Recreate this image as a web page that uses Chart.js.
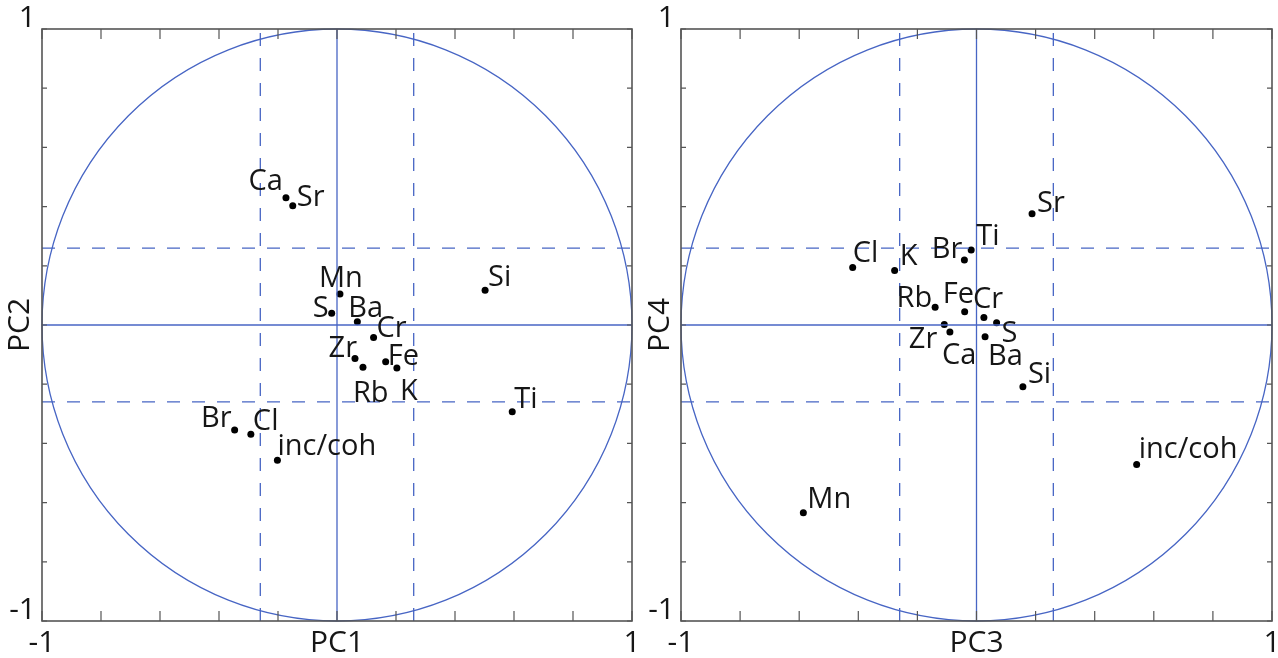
<!DOCTYPE html>
<html><head><meta charset="utf-8">
<script src="https://cdn.jsdelivr.net/npm/chart.js@4.4.1/dist/chart.umd.min.js"></script>
<style>
html,body{margin:0;padding:0;background:#fff;width:1278px;height:658px;overflow:hidden;}
#c1{position:absolute;left:0;top:0;}
#c2{position:absolute;left:640px;top:0;}
</style></head><body>
<canvas id="c1" width="640" height="658"></canvas>
<canvas id="c2" width="638" height="658"></canvas>
<script>
// ---- data ----
const elements = ['Ca','Sr','Mn','S','Ba','Cr','Zr','Rb','Fe','K','Si','Ti','Br','Cl','inc/coh'];
const pc1 = [-0.173,-0.150, 0.010,-0.018, 0.069, 0.124, 0.061, 0.088, 0.165, 0.203, 0.502, 0.594,-0.347,-0.292,-0.202];
const pc2 = [ 0.430, 0.403, 0.105, 0.040, 0.011,-0.042,-0.113,-0.143,-0.124,-0.145, 0.117,-0.293,-0.355,-0.369,-0.457];
const pc3 = [-0.090, 0.188,-0.586, 0.068, 0.029, 0.025,-0.109,-0.140,-0.040,-0.277, 0.157,-0.018,-0.041,-0.419, 0.542];
const pc4 = [-0.024, 0.376,-0.634, 0.008,-0.040, 0.025, 0.002, 0.060, 0.045, 0.184,-0.209, 0.253, 0.220, 0.194,-0.471];
const tickValues = [-1,-0.8,-0.6,-0.4,-0.2,0,0.2,0.4,0.6,0.8,1];
const tickLabels = ['-1','1'];
const dashLevel = 0.26;
const circleRadius = 1;

// label placement (align, dx, dy) in pixels, same order as elements
const labelPos1 = [['right',-3,-8],['left',4,0],['center',1,-7],['right',-3,4],['left',-9,-5],['left',3,0],['right',2,-1],['left',-10,35],['left',2,3],['left',3,32],['left',3,-4],['left',2,-4],['right',-3,-3],['left',2,-4],['left',0,-5]];
const labelPos2 = [['left',-8,32],['left',5,-2],['left',4,-5],['left',5,19],['left',3,28],['left',-11,-10],['right',-7,24],['right',-3,0],['left',-22,-9],['left',5,-6],['left',5,-4],['left',5,-5],['right',-2,-2],['left',0,-6],['left',2,-6]];

const BLUE = '#4765c4';
const AXIS = '#555555';
const TXT = '#161616';
const FONT = '"Open Sans", "Noto Sans", sans-serif';

const framePlugin = {
  id: 'frame',
  beforeDatasetsDraw(chart) {
    const {ctx, scales: {x, y}} = chart;
    ctx.save();
    const cx = x.getPixelForValue(0), cy = y.getPixelForValue(0);
    const rx = x.getPixelForValue(circleRadius) - cx, ry = cy - y.getPixelForValue(circleRadius);
    ctx.strokeStyle = BLUE; ctx.lineWidth = 1.3;
    ctx.beginPath(); ctx.ellipse(cx, cy, rx, ry, 0, 0, Math.PI * 2); ctx.stroke();
    ctx.restore();
  },
  afterDraw(chart) {
    const {ctx, chartArea: a, scales: {x, y}} = chart;
    ctx.save();
    ctx.strokeStyle = AXIS; ctx.lineWidth = 1.6;
    ctx.strokeRect(a.left, a.top, a.right - a.left, a.bottom - a.top);
    ctx.lineWidth = 1.2;
    ctx.beginPath();
    tickValues.forEach(v => {
      const px = x.getPixelForValue(v), py = y.getPixelForValue(v);
      ctx.moveTo(px, a.bottom); ctx.lineTo(px, a.bottom - 10);
      ctx.moveTo(px, a.top); ctx.lineTo(px, a.top + 10);
      ctx.moveTo(a.left, py); ctx.lineTo(a.left + 5, py);
      ctx.moveTo(a.right, py); ctx.lineTo(a.right - 5, py);
    });
    ctx.stroke();
    ctx.restore();
  },
  afterDatasetsDraw(chart) {
    const {ctx} = chart;
    const pos = chart.options.plugins.frame.labelPos;
    const ds = chart.data.datasets.findIndex(d => d.isPoints);
    const meta = chart.getDatasetMeta(ds);
    ctx.save();
    ctx.fillStyle = TXT;
    ctx.font = '500 29px ' + FONT;
    ctx.textBaseline = 'alphabetic';
    meta.data.forEach((el, i) => {
      const [al, dx, dy] = pos[i];
      ctx.textAlign = al;
      ctx.fillText(elements[i], el.x + dx, el.y + dy);
    });
    ctx.restore();
  }
};

function lineDs(pts, dashed) {
  return {type: 'scatter', data: pts, showLine: true, borderColor: BLUE, borderWidth: 1.3,
          borderDash: dashed ? [13, 12] : [], pointRadius: 0, fill: false};
}

function makeChart(id, xs, ys, xName, yName, labelPos, yWidth, padRight) {
  const pts = xs.map((v, i) => ({x: v, y: ys[i]}));
  const datasets = [
    lineDs([{x: -1, y: 0}, {x: 1, y: 0}], false),
    lineDs([{x: 0, y: -1}, {x: 0, y: 1}], false),
    lineDs([{x: -1, y: dashLevel}, {x: 1, y: dashLevel}], true),
    lineDs([{x: -1, y: -dashLevel}, {x: 1, y: -dashLevel}], true),
    lineDs([{x: dashLevel, y: -1}, {x: dashLevel, y: 1}], true),
    lineDs([{x: -dashLevel, y: -1}, {x: -dashLevel, y: 1}], true),
    {type: 'scatter', isPoints: true, data: pts, pointRadius: 3.5, pointBackgroundColor: '#000',
     pointBorderWidth: 0, showLine: false}
  ];
  return new Chart(document.getElementById(id), {
    type: 'scatter',
    data: {datasets},
    options: {
      responsive: false, animation: false,
      layout: {padding: {left: 0, top: 29, right: padRight, bottom: 0}},
      plugins: {legend: {display: false}, tooltip: {enabled: false}, frame: {labelPos}},
      scales: {
        x: {
          type: 'linear', min: -1, max: 1, position: 'bottom',
          grid: {display: false, drawTicks: false}, border: {display: false},
          afterBuildTicks: s => { s.ticks = tickValues.map(v => ({value: v})); },
          afterFit: s => { s.height = 37; s.paddingLeft = 0; s.paddingRight = 0; },
          ticks: {autoSkip: false, maxRotation: 0, padding: 4, color: TXT,
                  font: {family: FONT, size: 30, weight: '500'},
                  callback: v => (v === -1 ? tickLabels[0] : v === 1 ? tickLabels[1] : (Math.abs(v) < 1e-9 ? xName : ''))}
        },
        y: {
          type: 'linear', min: -1, max: 1, position: 'left',
          grid: {display: false, drawTicks: false}, border: {display: false},
          afterBuildTicks: s => { s.ticks = tickValues.map(v => ({value: v})); },
          afterFit: s => { s.width = yWidth; s.paddingTop = 0; s.paddingBottom = 0; },
          title: {display: true, text: yName, color: TXT, font: {family: FONT, size: 30, weight: '500'}, padding: {top: 2, bottom: 0}},
          ticks: {autoSkip: false, padding: 6, color: TXT, labelOffset: -11,
                  font: {family: FONT, size: 30, weight: '500'},
                  callback: v => (v === -1 ? tickLabels[0] : v === 1 ? tickLabels[1] : '')}
        }
      }
    },
    plugins: [framePlugin]
  });
}

makeChart('c1', pc1, pc2, 'PC1', 'PC2', labelPos1, 42, 8);
makeChart('c2', pc3, pc4, 'PC3', 'PC4', labelPos2, 41, 6);
</script>
</body></html>
